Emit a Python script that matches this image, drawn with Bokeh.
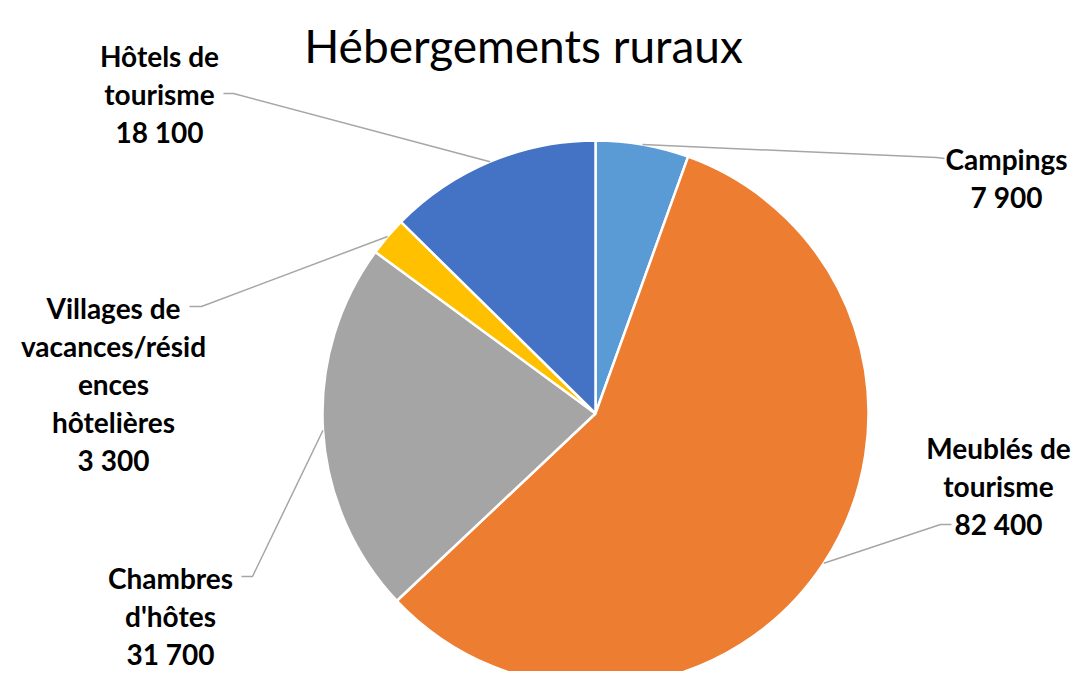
import numpy as np
from bokeh.plotting import figure
from bokeh.models import Range1d
from bokeh.core.properties import value
from bokeh.embed import file_html
from bokeh.resources import INLINE

# ---- data ----
title_text = "Hébergements ruraux"
categories = ["Campings", "Meublés de tourisme", "Chambres d'hôtes",
              "Villages de vacances/résidences hôtelières", "Hôtels de tourisme"]
values = [7900, 82400, 31700, 3300, 18100]
value_labels = ["7 900", "82 400", "31 700", "3 300", "18 100"]
label_lines = [["Campings"], ["Meublés de", "tourisme"], ["Chambres", "d'hôtes"],
               ["Villages de", "vacances/résid", "ences", "hôtelières"],
               ["Hôtels de", "tourisme"]]
colors = ["#5B9BD5", "#ED7D31", "#A5A5A5", "#FFC000", "#4472C4"]

# ---- layout (pixel positions from top-left) ----
W, H = 1072, 671
cx, cy, R = 595, 413, 273
label_pos = [(1006, 158), (998, 447), (170, 577), (113, 307), (159, 55)]
leader_ends = [[(936, 157), (944, 158)], [(940, 524), (951, 524)],
               [(252, 576), (241, 576)], [(201, 306), (189, 306)],
               [(233, 93), (223, 93)]]
LINE_SP = 38

def Y(yp):
    return H - yp

p = figure(width=W, height=H, output_backend="svg", toolbar_location=None,
           x_range=Range1d(0, W), y_range=Range1d(0, H),
           x_axis_location=None, y_axis_location=None, min_border=0)
p.grid.visible = False
p.outline_line_color = None

vals = np.array(values, dtype=float)
frac = vals / vals.sum()
cum = np.concatenate([[0], np.cumsum(frac)])
start = np.pi / 2 - cum[:-1] * 2 * np.pi
end = np.pi / 2 - cum[1:] * 2 * np.pi
mid = (start + end) / 2

p.wedge(x=cx, y=Y(cy), radius=R, start_angle=start, end_angle=end,
        direction="clock", fill_color=colors, line_color="white", line_width=2.5)

# leader lines
for i in range(len(values)):
    sx = cx + R * np.cos(mid[i])
    sy = cy - R * np.sin(mid[i])
    xs = [sx] + [pt[0] for pt in leader_ends[i]]
    ys = [Y(sy)] + [Y(pt[1]) for pt in leader_ends[i]]
    p.line(xs, ys, line_color="#A6A6A6", line_width=1.5)

# labels
for i in range(len(values)):
    lines = label_lines[i] + [value_labels[i]]
    lx, ly = label_pos[i]
    p.text(x=[lx] * len(lines), y=[Y(ly + k * LINE_SP) for k in range(len(lines))],
           text=lines, text_font=value("Lato"), text_font_style="bold",
           text_font_size="28px", text_align="center", text_baseline="alphabetic",
           text_color="black")

p.text(x=[523], y=[Y(45)], text=[title_text], text_font=value("Lato"),
       text_font_size="46px", text_align="center", text_baseline="alphabetic",
       text_color="black")

open("out.html", "w").write(file_html(p, INLINE))
